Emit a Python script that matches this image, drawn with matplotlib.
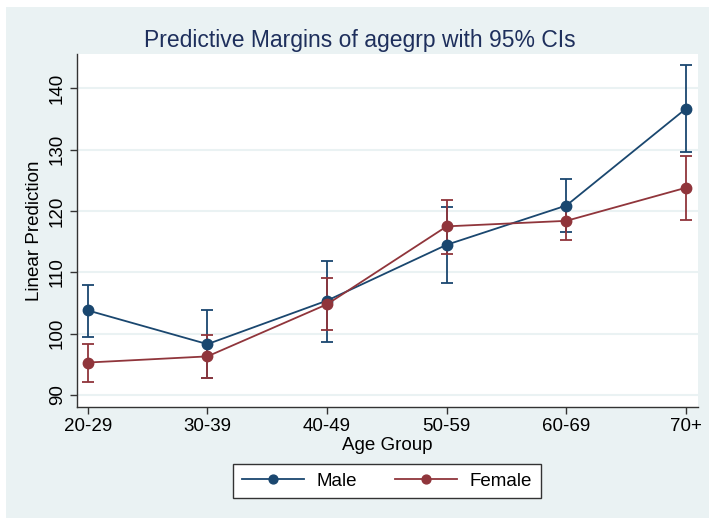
import numpy as np
import matplotlib.pyplot as plt
from matplotlib.patches import Rectangle

plt.rcParams['font.family'] = ['Liberation Sans', 'DejaVu Sans']

# predictive margins
age_groups = ["20-29", "30-39", "40-49", "50-59", "60-69", "70+"]
male = [103.8, 98.3, 105.4, 114.5, 120.9, 136.7]
male_lo = [99.5, 92.8, 98.7, 108.3, 116.5, 129.6]
male_hi = [107.9, 103.8, 111.9, 120.7, 125.2, 143.8]
female = [95.3, 96.3, 104.8, 117.5, 118.4, 123.8]
female_lo = [92.1, 92.7, 100.6, 113.0, 115.3, 118.5]
female_hi = [98.4, 99.8, 109.1, 121.8, 120.6, 129.0]
y_ticks = [90, 100, 110, 120, 130, 140]

navy = "#1a476f"
maroon = "#90353b"
bg = "#eaf2f3"

fig = plt.figure(figsize=(7.09, 5.18), dpi=100)
fig.patch.set_facecolor("white")
# outer graph region (light blue-grey), white strip at top/left
fig.patches.append(Rectangle((6 / 709, 0), 1 - 6 / 709, 1 - 7 / 518,
                             transform=fig.transFigure,
                             facecolor=bg, edgecolor="none", zorder=-10))

ax = fig.add_axes([77 / 709, 111 / 518, 621 / 709, 353 / 518])
ax.set_facecolor("white")

x = np.arange(1, len(age_groups) + 1)

def draw(vals, lo, hi, color, label):
    vals = np.array(vals)
    err = [vals - np.array(lo), np.array(hi) - vals]
    ax.errorbar(x, vals, yerr=err, fmt="none", ecolor=color, elinewidth=1.3,
                capsize=4.5, capthick=1.3, zorder=3)
    ax.plot(x, vals, color=color, lw=1.3, marker="o", markersize=7.5,
            label=label, zorder=4)

draw(male, male_lo, male_hi, navy, "Male")
draw(female, female_lo, female_hi, maroon, "Female")

ax.set_xlim(0.91, 6.1)
ax.set_ylim(88.05, 145.6)
ax.set_yticks(y_ticks)
ax.set_yticklabels([str(v) for v in y_ticks], rotation=90, va="center")
ax.set_xticks(x)
ax.set_xticklabels(age_groups)
ax.grid(axis="y", color=bg, lw=1.5)
ax.set_axisbelow(True)

for s in ["top", "right"]:
    ax.spines[s].set_visible(False)
for s in ["left", "bottom"]:
    ax.spines[s].set_color("#333333")
    ax.spines[s].set_linewidth(1.0)
ax.tick_params(length=5, width=1.0, color="#333333", labelsize=13.5, pad=3)

ax.set_xlabel("Age Group", fontsize=13.5, labelpad=1)
ax.set_ylabel("Linear Prediction", fontsize=13.5, labelpad=4)
fig.text(0.508, 1 - 40 / 518, "Predictive Margins of agegrp with 95% CIs",
         ha="center", va="center", fontsize=16.5, color="#1e2f5c")

leg = fig.legend(loc="center", bbox_to_anchor=(387 / 709, 1 - 481 / 518), ncol=2,
                 fontsize=13.5, frameon=True, fancybox=False, handlelength=3.3,
                 markerscale=0.85, columnspacing=2.0, borderpad=0.45,
                 handletextpad=0.7)
leg.get_frame().set_edgecolor("#333333")
leg.get_frame().set_linewidth(1.0)
leg.get_frame().set_alpha(1)

fig.savefig("out.png", dpi=100)
